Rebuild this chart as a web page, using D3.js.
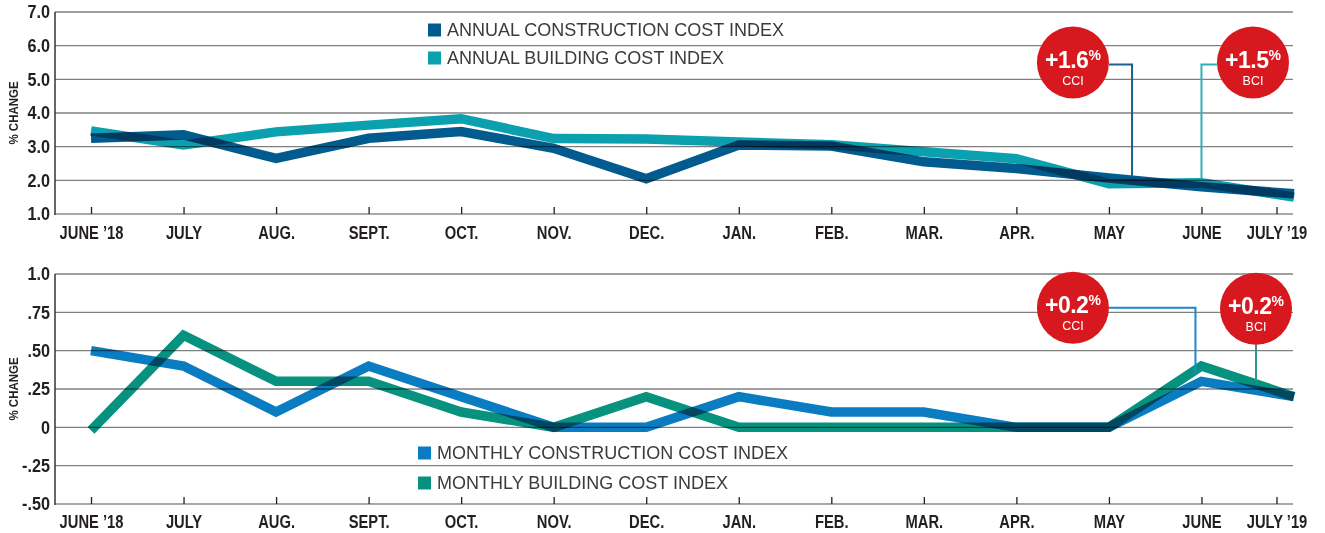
<!DOCTYPE html>
<html>
<head>
<meta charset="utf-8">
<script src="https://cdn.jsdelivr.net/npm/d3@7"></script>
<style>
  html, body { margin: 0; padding: 0; background: #fff; }
  svg { display: block; }
  .cond { font-family: "Liberation Sans", Arial, sans-serif; font-weight: bold; }
</style>
</head>
<body>
<svg id="chart" width="1325" height="533"></svg>
<script>
// ---------- DATA ----------
const months = ["JUNE '18", "JULY", "AUG.", "SEPT.", "OCT.", "NOV.", "DEC.", "JAN.", "FEB.", "MAR.", "APR.", "MAY", "JUNE", "JULY '19"];
const monthLabels = ["JUNE \u201918", "JULY", "AUG.", "SEPT.", "OCT.", "NOV.", "DEC.", "JAN.", "FEB.", "MAR.", "APR.", "MAY", "JUNE", "JULY \u201919"];

const annualCCI = [3.25, 3.35, 2.65, 3.25, 3.45, 2.95, 2.05, 3.05, 3.02, 2.55, 2.35, 2.07, 1.81, 1.6];
const annualBCI = [3.47, 3.05, 3.44, 3.64, 3.83, 3.24, 3.23, 3.14, 3.06, 2.85, 2.64, 1.9, 1.93, 1.5];
const monthlyCCI = [0.5, 0.4, 0.1, 0.4, 0.2, 0.0, 0.0, 0.2, 0.1, 0.1, 0.0, 0.0, 0.3, 0.2];
const monthlyBCI = [-0.02, 0.6, 0.3, 0.3, 0.1, 0.0, 0.2, 0.0, 0.0, 0.0, 0.0, 0.0, 0.4, 0.2];

const annualTicks = [1, 2, 3, 4, 5, 6, 7];
const annualTickLabels = ["1.0", "2.0", "3.0", "4.0", "5.0", "6.0", "7.0"];
const monthlyTicks = [-0.5, -0.25, 0, 0.25, 0.5, 0.75, 1];
const monthlyTickLabels = ["-.50", "-.25", "0", ".25", ".50", ".75", "1.0"];

const annualLegend = ["ANNUAL CONSTRUCTION COST INDEX", "ANNUAL BUILDING COST INDEX"];
const monthlyLegend = ["MONTHLY CONSTRUCTION COST INDEX", "MONTHLY BUILDING COST INDEX"];

const annualCallouts = [{ value: "+1.6", unit: "%", name: "CCI" }, { value: "+1.5", unit: "%", name: "BCI" }];
const monthlyCallouts = [{ value: "+0.2", unit: "%", name: "CCI" }, { value: "+0.2", unit: "%", name: "BCI" }];

// ---------- STYLE ----------
const svg = d3.select("#chart");
const xLeft = 55, xRight = 1293;
const RED = "#d7191f";
const INK = "#231f20";

function drawPanel(opts) {
  const g = svg.append("g");
  const x = d3.scalePoint().domain(months).range([91, 1294]);
  const y = d3.scaleLinear().domain(opts.domain).range(opts.range);

  g.append("g").selectAll("line")
    .data(opts.ticks.filter(t => t !== opts.domain[0]))
    .join("line")
    .attr("x1", xLeft).attr("x2", xRight)
    .attr("y1", d => y(d)).attr("y2", d => y(d))
    .attr("stroke", "#808080").attr("stroke-width", 1.3);

  g.append("line")
    .attr("x1", xLeft).attr("x2", xRight)
    .attr("y1", y(opts.domain[0])).attr("y2", y(opts.domain[0]))
    .attr("stroke", "#a8a8a8").attr("stroke-width", 2);

  g.append("line")
    .attr("x1", xLeft).attr("x2", xLeft)
    .attr("y1", y(opts.domain[0]) + 1).attr("y2", y(opts.domain[1]))
    .attr("stroke", "#333").attr("stroke-width", 1.5);

  g.append("g").selectAll("text")
    .data(opts.ticks)
    .join("text")
    .attr("class", "cond")
    .attr("transform", d => `translate(50,${y(d)}) scale(0.9,1)`)
    .attr("dy", "0.36em")
    .attr("text-anchor", "end")
    .attr("font-size", 18)
    .attr("fill", INK)
    .text((d, i) => opts.tickLabels[i]);

  g.append("text")
    .attr("class", "cond")
    .attr("transform", `translate(18,${(y(opts.domain[0]) + y(opts.domain[1])) / 2}) rotate(-90) scale(0.85,1)`)
    .attr("text-anchor", "middle")
    .attr("font-size", 13.5)
    .attr("fill", INK)
    .text("% CHANGE");

  const axis = d3.axisBottom(x).tickSize(0).tickPadding(0).tickFormat((d, i) => monthLabels[i]);
  const ax = g.append("g")
    .attr("transform", `translate(0,${y(opts.domain[0])})`)
    .call(axis);
  ax.select(".domain").remove();
  ax.attr("font-family", null).attr("font-size", null);
  ax.selectAll(".tick text")
    .attr("class", "cond")
    .attr("font-size", 18)
    .attr("fill", INK)
    .attr("y", opts.labelOffset)
    .attr("dy", 0)
    .attr("transform", "scale(0.82,1)");
  ax.selectAll(".tick line")
    .attr("y1", 0).attr("y2", -7)
    .attr("stroke", INK).attr("stroke-width", 1.3);
  const lastM = months[months.length - 1];
  ax.selectAll(".tick").filter(d => d === lastM)
    .attr("transform", `translate(${x(lastM) - 17},0)`);

  const line = d3.line().x((d, i) => x(months[i])).y(d => y(d));
  opts.series.forEach(s => {
    g.append("path")
      .datum(s.values)
      .attr("d", line)
      .attr("fill", "none")
      .attr("stroke", s.color)
      .attr("stroke-width", 9.5)
      .attr("stroke-linejoin", "miter")
      .attr("stroke-miterlimit", 10)
      .style("mix-blend-mode", "multiply");
  });

  const lg = g.append("g");
  opts.series.forEach((s, i) => {
    const cy = opts.legendY[i];
    lg.append("rect")
      .attr("x", opts.legendX).attr("y", cy - 6.5)
      .attr("width", 13).attr("height", 13)
      .attr("fill", s.color);
    lg.append("text")
      .attr("x", opts.legendX + 19).attr("y", cy)
      .attr("dy", "0.36em")
      .attr("font-family", "'Liberation Sans', Arial, sans-serif")
      .attr("font-size", 18)
      .attr("fill", "#3b3b3b")
      .text(opts.legend[i]);
  });

  return { g, x, y };
}

function callout(g, cx, cy, c) {
  const r = 36;
  g.append("circle").attr("cx", cx).attr("cy", cy).attr("r", r).attr("fill", RED);
  const t = g.append("text")
    .attr("x", cx).attr("y", cy + 5)
    .attr("text-anchor", "middle")
    .attr("font-family", "'Liberation Sans', Arial, sans-serif")
    .attr("font-weight", "bold")
    .attr("fill", "#fff");
  t.append("tspan").attr("font-size", 23).attr("letter-spacing", -0.5).text(c.value);
  t.append("tspan").attr("font-size", 14).attr("dy", -8).text(c.unit);
  g.append("text")
    .attr("x", cx).attr("y", cy + 22)
    .attr("text-anchor", "middle")
    .attr("font-family", "'Liberation Sans', Arial, sans-serif")
    .attr("font-size", 12.5)
    .attr("fill", "#fff")
    .text(c.name);
}

// ---------- TOP PANEL ----------
const topColors = ["#015b8e", "#0aa0ad"];
const panelA = drawPanel({
  domain: [1, 7], range: [214, 12],
  ticks: annualTicks, tickLabels: annualTickLabels,
  labelOffset: 25,
  series: [{ values: annualCCI, color: topColors[0] }, { values: annualBCI, color: topColors[1] }],
  legend: annualLegend, legendX: 428, legendY: [30, 58]
});
{
  const { g, x, y } = panelA;
  const step = x.step();
  const cx1 = x("MAY") - 36, cx2 = x("JULY '19") - 41, cy = y(5.5);
  const vx1 = x("MAY") + step * 0.25;
  const v1 = annualCCI[11] + (annualCCI[12] - annualCCI[11]) * 0.25;
  g.append("polyline")
    .attr("points", `${cx1 + 36},${cy + 2} ${vx1},${cy + 2} ${vx1},${y(v1) - 4}`)
    .attr("fill", "none").attr("stroke", "#1a5f8e").attr("stroke-width", 2);
  const vx2 = x("JUNE");
  g.append("polyline")
    .attr("points", `${cx2 - 36},${cy + 2} ${vx2},${cy + 2} ${vx2},${y(annualBCI[12]) - 4}`)
    .attr("fill", "none").attr("stroke", "#33aebb").attr("stroke-width", 2);
  callout(g, cx1, cy, annualCallouts[0]);
  callout(g, cx2, cy, annualCallouts[1]);
}

// ---------- BOTTOM PANEL ----------
const botColors = ["#0a7cc2", "#06927f"];
const panelB = drawPanel({
  domain: [-0.5, 1], range: [504, 274],
  ticks: monthlyTicks, tickLabels: monthlyTickLabels,
  labelOffset: 24,
  series: [{ values: monthlyCCI, color: botColors[0] }, { values: monthlyBCI, color: botColors[1] }],
  legend: monthlyLegend, legendX: 418, legendY: [453, 483]
});
{
  const { g, x, y } = panelB;
  const step = x.step();
  const cx1 = x("MAY") - 36, cx2 = x("JULY '19") - 38, cy = y(0.78);
  const vx1 = x("JUNE") - 6;
  g.append("polyline")
    .attr("points", `${cx1 + 36},${cy} ${vx1},${cy} ${vx1},${y(monthlyCCI[12]) - 6}`)
    .attr("fill", "none").attr("stroke", "#1a88cc").attr("stroke-width", 2);
  const frac = (cx2 - x("JUNE")) / step;
  const v2 = monthlyBCI[12] + (monthlyBCI[13] - monthlyBCI[12]) * frac;
  g.append("line")
    .attr("x1", cx2).attr("x2", cx2)
    .attr("y1", cy + 36).attr("y2", y(v2) - 4)
    .attr("stroke", "#2a9c8c").attr("stroke-width", 2);
  callout(g, cx1, cy, monthlyCallouts[0]);
  callout(g, cx2, cy + 1, monthlyCallouts[1]);
}
</script>
</body>
</html>
